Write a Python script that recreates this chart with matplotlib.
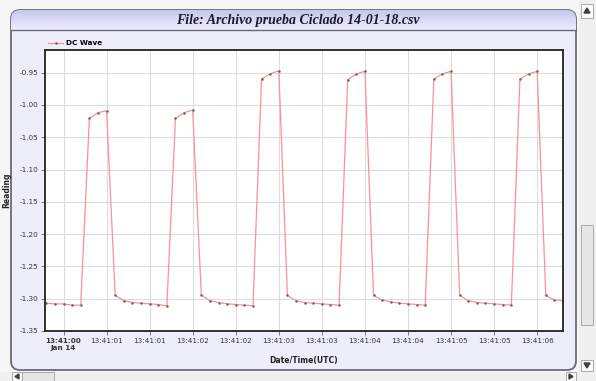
import numpy as np
import matplotlib
matplotlib.use('Agg')
import matplotlib.pyplot as plt
from matplotlib.patches import FancyBboxPatch, Rectangle, Polygon

# time in seconds after 13:41:00, one sample every 0.1 s
times = [round(-0.2 + 0.1 * i, 1) for i in range(61)]
reading = [
    -1.307, -1.308, -1.308, -1.310, -1.310,
    -1.021, -1.012, -1.009,
    -1.295, -1.303, -1.306, -1.307, -1.308, -1.309, -1.311,
    -1.021, -1.012, -1.008,
    -1.294, -1.303, -1.306, -1.308, -1.309, -1.310, -1.311,
    -0.960, -0.952, -0.947,
    -1.295, -1.303, -1.306, -1.307, -1.308, -1.309, -1.310,
    -0.961, -0.952, -0.948,
    -1.295, -1.302, -1.305, -1.307, -1.308, -1.309, -1.310,
    -0.960, -0.952, -0.948,
    -1.295, -1.303, -1.306, -1.307, -1.308, -1.309, -1.310,
    -0.960, -0.952, -0.948,
    -1.295, -1.302, -1.303,
]
x_ticks = [0.0, 0.5, 1.0, 1.5, 2.0, 2.5, 3.0, 3.5, 4.0, 4.5, 5.0, 5.5]
x_labels = ['13:41:00\nJan 14', '13:41:01', '13:41:01', '13:41:02', '13:41:02',
            '13:41:03', '13:41:03', '13:41:04', '13:41:04', '13:41:05',
            '13:41:05', '13:41:06']
y_ticks = [-0.95, -1.00, -1.05, -1.10, -1.15, -1.20, -1.25, -1.30, -1.35]

W, H = 596, 381
fig = plt.figure(figsize=(W / 100, H / 100), dpi=100)
fig.patch.set_facecolor('#f6f6f6')

# background "window" drawn in pixel coordinates
bg = fig.add_axes([0, 0, 1, 1], zorder=-1)
bg.set_xlim(0, W)
bg.set_ylim(H, 0)
bg.axis('off')

panel = FancyBboxPatch((11, 10), 565, 360, boxstyle='round,pad=0,rounding_size=9',
                       facecolor='#eeeefb', edgecolor='#6a6a78', linewidth=1.3)
bg.add_patch(panel)
grad = np.linspace(0, 1, 50).reshape(-1, 1)
img = bg.imshow(grad, extent=(11, 576, 30, 10), cmap=matplotlib.colors.LinearSegmentedColormap.from_list(
    'tb', ['#c6c6f0', '#eeeefc']), aspect='auto', zorder=1)
img.set_clip_path(panel)
bg.plot([11, 576], [30, 30], color='#6a6a78', lw=1.0, zorder=2)
bg.text(298, 20.5, 'File: Archivo prueba Ciclado 14-01-18.csv', ha='center', va='center',
        fontsize=10, fontweight='bold', fontstyle='italic', family='Liberation Serif',
        color='#1a1a2a', zorder=3)

# scrollbars
bg.add_patch(Rectangle((579, 0), 17, 381, facecolor='#f0f0f0', edgecolor='none'))
bg.add_patch(Rectangle((581, 4), 12, 14, facecolor='#fbfbfb', edgecolor='#a0a0a0', lw=0.6))
bg.add_patch(Polygon([[584, 13], [590, 13], [587, 8]], color='#404040'))
bg.add_patch(Rectangle((581, 225), 12, 100, facecolor='#e6e6e6', edgecolor='#a0a0a0', lw=0.6))
bg.add_patch(Rectangle((581, 360), 12, 11, facecolor='#fbfbfb', edgecolor='#a0a0a0', lw=0.6))
bg.add_patch(Polygon([[584, 363], [590, 363], [587, 368]], color='#404040'))
bg.add_patch(Rectangle((0, 372), 579, 9, facecolor='#f0f0f0', edgecolor='none'))
bg.add_patch(Rectangle((12, 372), 10, 9, facecolor='#fbfbfb', edgecolor='#a0a0a0', lw=0.6))
bg.add_patch(Polygon([[19, 374], [19, 379], [15, 376.5]], color='#404040'))
bg.add_patch(Rectangle((22, 372), 32, 9, facecolor='#e6e6e6', edgecolor='#a0a0a0', lw=0.6))
bg.add_patch(Rectangle((566, 372), 10, 9, facecolor='#fbfbfb', edgecolor='#a0a0a0', lw=0.6))
bg.add_patch(Polygon([[569, 374], [569, 379], [573, 376.5]], color='#404040'))

# main plot
ax = fig.add_axes([45 / W, 1 - 331 / H, (563 - 45) / W, (331 - 50) / H])
ax.set_facecolor('white')
line, = ax.plot(times, reading, color='#ff9090', lw=0.9, marker='.', markersize=1.6,
                markerfacecolor='#666666', markeredgecolor='#666666', label='DC Wave')
ax.set_xlim(-0.215, 5.80)
ax.set_ylim(-1.35, -0.915)
ax.set_xticks(x_ticks)
ax.set_xticklabels(x_labels, fontsize=5.2, color='#333333')
ax.get_xticklabels()[0].set_fontweight('bold')
ax.set_yticks(y_ticks)
ax.set_yticklabels(['%.2f' % v for v in y_ticks], fontsize=5.2, color='#333333')
ax.tick_params(length=3, width=0.6, color='#666666', pad=2)
ax.grid(True, color='#dcdcdc', lw=0.8)
for s in ax.spines.values():
    s.set_color('#222222')
    s.set_linewidth(1.3)
ax.set_xlabel('Date/Time(UTC)', fontsize=5.5, fontweight='bold', color='#222222', labelpad=4)
ax.set_ylabel('Reading', fontsize=5.5, fontweight='bold', color='#222222', labelpad=6)
ax.legend(loc='lower left', bbox_to_anchor=(-0.002, 1.0), frameon=False,
          handlelength=2.2, handletextpad=0.4, borderaxespad=0.3, borderpad=0.2,
          prop={'weight': 'bold', 'size': 5.2})

fig.savefig('out.png', dpi=100, facecolor=fig.get_facecolor())
